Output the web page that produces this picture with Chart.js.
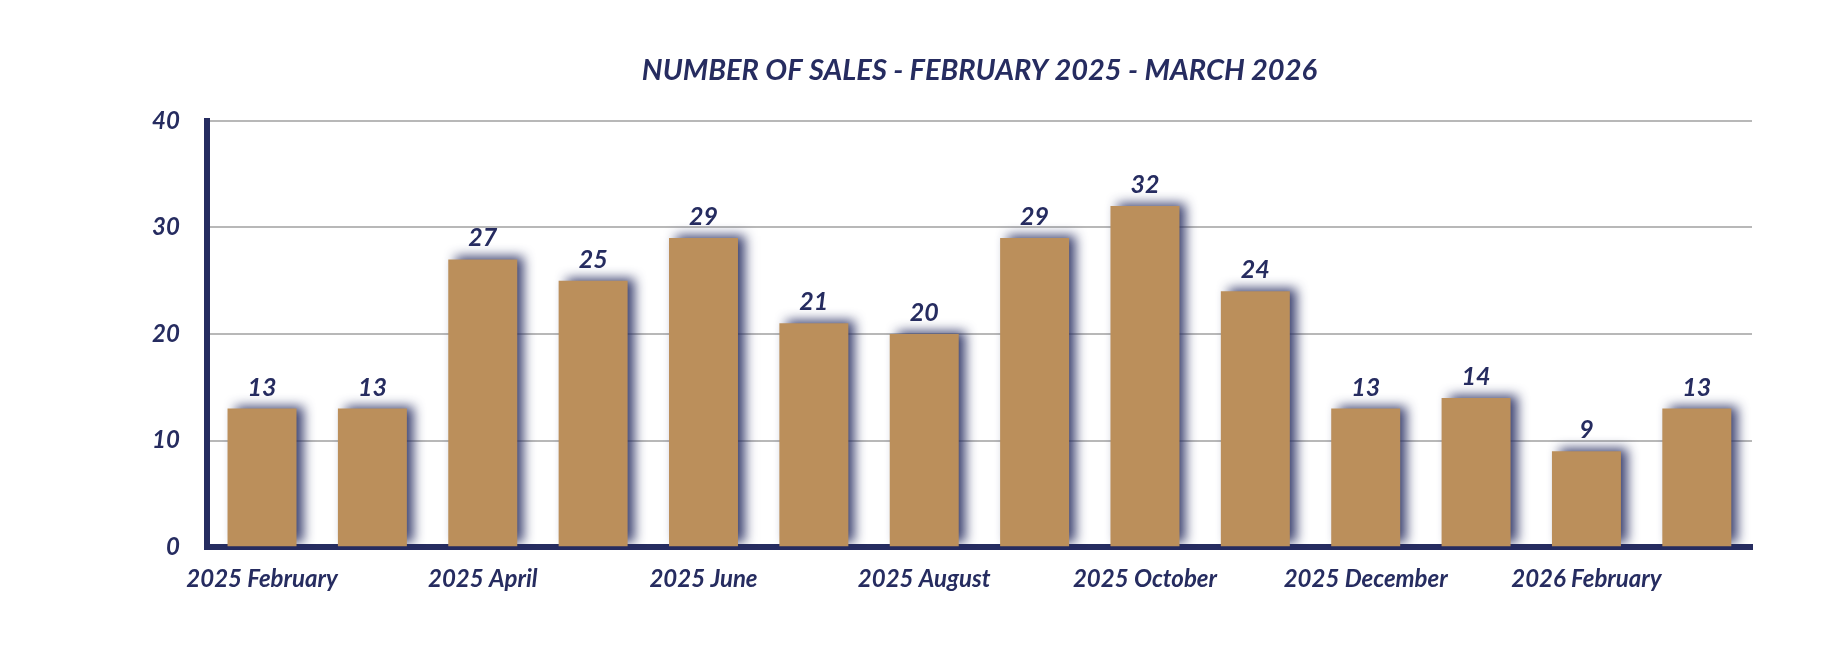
<!DOCTYPE html>
<html>
<head>
<meta charset="utf-8">
<script src="https://cdn.jsdelivr.net/npm/chart.js@4"></script>
<style>
  html, body { margin: 0; padding: 0; background: #fff; }
  #wrap { width: 1840px; height: 668px; }
</style>
</head>
<body>
<div id="wrap"><canvas id="salesChart" width="1840" height="668"></canvas></div>
<script>
const months = [
    '2025 February', '2025 March', '2025 April', '2025 May', '2025 June', '2025 July',
    '2025 August', '2025 September', '2025 October', '2025 November', '2025 December',
    '2026 January', '2026 February', '2026 March'
];
const sales = [13, 13, 27, 25, 29, 21, 20, 29, 32, 24, 13, 14, 9, 13];
const yTicks = [0, 10, 20, 30, 40];

const NAVY = '#262c60';
const GOLD = '#bb8f5b';
const FONT = 'Lato, "Open Sans", sans-serif';

// blurred navy shadow behind the bars
const barShadow = {
    id: 'barShadow',
    beforeDatasetsDraw(chart) {
        const ctx = chart.ctx;
        ctx.save();
        ctx.shadowColor = 'rgba(38, 44, 96, 0.9)';
        ctx.shadowBlur = 11;
        ctx.shadowOffsetX = 7;
        ctx.shadowOffsetY = -3;
    },
    afterDatasetsDraw(chart) {
        chart.ctx.restore();
    }
};

// value above each bar
const valueLabels = {
    id: 'valueLabels',
    afterDatasetsDraw(chart) {
        const ctx = chart.ctx;
        const meta = chart.getDatasetMeta(0);
        ctx.save();
        ctx.font = 'italic 700 25px ' + FONT;
        ctx.fillStyle = NAVY;
        ctx.textAlign = 'center';
        ctx.textBaseline = 'alphabetic';
        meta.data.forEach((bar, i) => {
            ctx.fillText(String(sales[i]), bar.x, bar.y - 13);
        });
        ctx.restore();
    }
};

new Chart(document.getElementById('salesChart').getContext('2d'), {
    type: 'bar',
    data: {
        labels: months,
        datasets: [{
            data: sales,
            backgroundColor: GOLD,
            borderWidth: 0,
            categoryPercentage: 1,
            barPercentage: 0.625
        }]
    },
    options: {
        responsive: false,
        animation: false,
        devicePixelRatio: 1,
        layout: { padding: { top: 53, right: 88, bottom: 56, left: 125 } },
        plugins: {
            legend: { display: false },
            tooltip: { enabled: false },
            title: {
                display: true,
                fullSize: false,
                text: 'NUMBER OF SALES - FEBRUARY 2025 - MARCH 2026',
                color: NAVY,
                font: { family: FONT, size: 29, weight: '700', style: 'italic' },
                padding: { top: 0, bottom: 33 }
            }
        },
        scales: {
            x: {
                grid: { display: false, drawTicks: false },
                border: { display: true, color: NAVY, width: 6 },
                ticks: {
                    autoSkip: false,
                    maxRotation: 0,
                    padding: 18,
                    color: NAVY,
                    font: { family: FONT, size: 24, weight: '700', style: 'italic' },
                    callback: (v, i) => (i % 2 === 0 ? months[i] : '')
                }
            },
            y: {
                min: yTicks[0],
                max: yTicks[yTicks.length - 1],
                afterBuildTicks: axis => { axis.ticks = yTicks.map(v => ({ value: v })); },
                grid: { color: '#b8b8b8', lineWidth: 2, drawTicks: false },
                border: { display: true, color: NAVY, width: 6 },
                ticks: {
                    padding: 27,
                    color: NAVY,
                    font: { family: FONT, size: 24, weight: '700', style: 'italic' }
                }
            }
        }
    },
    plugins: [barShadow, valueLabels]
});
</script>
</body>
</html>
